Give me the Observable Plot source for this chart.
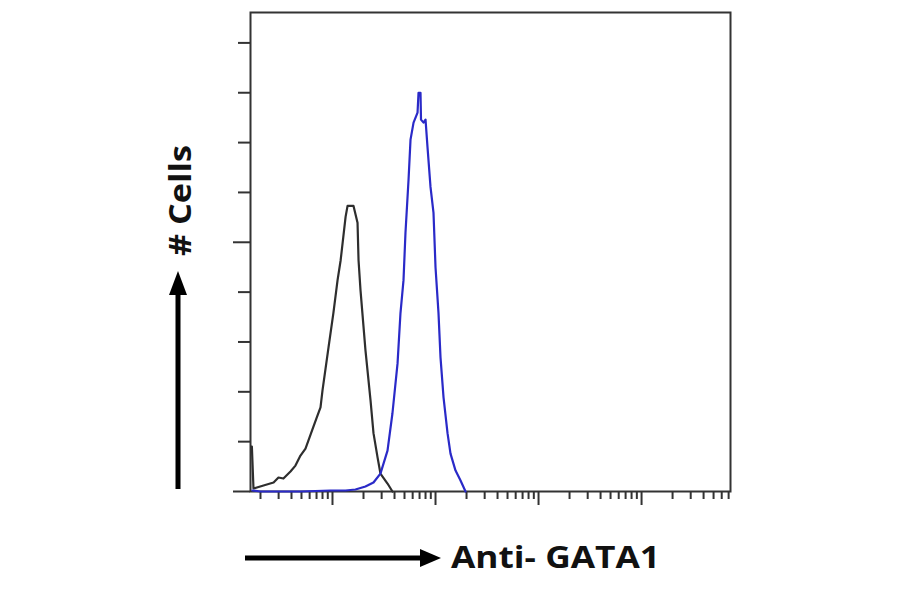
<!DOCTYPE html>
<html>
<head>
<meta charset="utf-8">
<script src="https://cdn.jsdelivr.net/npm/d3@7"></script>
<script src="https://cdn.jsdelivr.net/npm/@observablehq/plot@0.6"></script>
<style>
  html, body { margin: 0; padding: 0; background: #fff; }
  #chart { width: 900px; height: 594px; }
</style>
</head>
<body>
<div id="chart"></div>
<script>
// Isotype control (black) histogram: fluorescence intensity vs cell count
const controlIntensity = [1.62, 1.65, 1.71, 2.14, 2.68, 2.99, 3.34, 3.91, 4.37, 4.89, 5.47, 6.35, 7.0, 7.65, 8.0, 9.15, 10.2, 11.2, 12.0, 13.4, 14.0, 16.0, 17.5, 17.9, 18.7, 20.9, 23.4, 25.0, 27.4, 29.2, 34.2, 38.2];
const controlCount     = [9.0, 9.0, 0.6, 1.2, 1.8, 2.8, 2.6, 4.0, 5.2, 7.2, 8.6, 12.3, 14.7, 16.9, 20.3, 28.9, 35.8, 42.4, 46.4, 55.1, 57.3, 57.3, 53.9, 46.4, 40.4, 28.3, 18.3, 11.7, 6.8, 3.6, 1.6, 0];

// Anti-GATA1 stained (blue) histogram
const gataIntensity = [1.67, 2.0, 4.89, 9.56, 13.4, 16.7, 20.9, 25.0, 29.2, 34.2, 38.2, 42.8, 45.7, 48.9, 51.1, 54.7, 57.2, 61.2, 66.9, 68.4, 71.5, 72.3, 76.5, 80.0, 83.6, 89.4, 95.6, 100, 106.9, 111.8, 119.6, 130.8, 139.8, 156.4, 174.9, 195.6];
const gataCount     = [0.2, 0, 0, 0.2, 0.2, 0.4, 1.0, 1.8, 3.6, 8.2, 15.7, 25.7, 35.8, 42.4, 51.9, 62.5, 70.6, 74.0, 76.0, 80.0, 80.0, 74.6, 74.0, 74.6, 69.1, 61.1, 55.9, 45.0, 35.8, 26.9, 18.9, 11.7, 7.6, 4.2, 2.2, 0];

// Axis ticks (no labels in the original)
const xMajorTicks = [10, 100, 1000, 10000];
const xMinorMultipliers = [2, 3, 4, 5, 6, 7, 8, 9];
const xDecades = [1, 10, 100, 1000, 10000];
const yMinorTicks = [10, 20, 30, 40, 60, 70, 80, 90];
const yMajorTicks = [0, 50];

const xLabel = "Anti- GATA1";
const yLabel = "# Cells";

const xDomain = [1.6, 73000];
const xMinorTicks = xDecades.flatMap(d => xMinorMultipliers.map(m => m * d)).filter(v => v > xDomain[0] && v < xDomain[1]);

const control = controlIntensity.map((x, i) => ({x, y: controlCount[i]}));
const gata = gataIntensity.map((x, i) => ({x, y: gataCount[i]}));

const axisColor = "#333";
const blank = () => "";

const plot = Plot.plot({
  width: 900,
  height: 594,
  marginLeft: 250,
  marginRight: 170,
  marginTop: 12,
  marginBottom: 103,
  style: {background: "#fff", overflow: "visible"},
  x: {type: "log", domain: xDomain, axis: null},
  y: {domain: [0, 96.1], axis: null},
  marks: [
    Plot.axisX({ticks: xMinorTicks, tickSize: 8, tickFormat: blank, label: null, stroke: axisColor, strokeWidth: 2}),
    Plot.axisX({ticks: xMajorTicks, tickSize: 14, tickFormat: blank, label: null, stroke: axisColor, strokeWidth: 2}),
    Plot.axisY({ticks: yMinorTicks, tickSize: 12, tickFormat: blank, label: null, stroke: axisColor, strokeWidth: 2}),
    Plot.axisY({ticks: yMajorTicks, tickSize: 17, tickFormat: blank, label: null, stroke: axisColor, strokeWidth: 2}),
    Plot.frame({stroke: axisColor, strokeWidth: 2}),
    Plot.line(control, {x: "x", y: "y", stroke: "#2e2e2e", strokeWidth: 2.2}),
    Plot.line(gata, {x: "x", y: "y", stroke: "#2a2ac8", strokeWidth: 2.2})
  ]
});

document.getElementById("chart").appendChild(plot);

// Axis annotations: arrows and bold labels outside the frame
const svg = d3.select(plot);
const ann = svg.append("g").attr("class", "annotations");

// horizontal arrow
ann.append("line").attr("x1", 245).attr("y1", 558).attr("x2", 422).attr("y2", 558)
  .attr("stroke", "#000").attr("stroke-width", 5);
ann.append("path").attr("d", "M420,549 L441,558 L420,567 Z").attr("fill", "#000");

// vertical arrow
ann.append("line").attr("x1", 178).attr("y1", 489).attr("x2", 178).attr("y2", 292)
  .attr("stroke", "#000").attr("stroke-width", 5);
ann.append("path").attr("d", "M169,295 L178,271 L187,295 Z").attr("fill", "#000");

ann.append("text")
  .attr("x", 451).attr("y", 568)
  .attr("text-anchor", "start")
  .attr("font-family", "'Open Sans', 'Liberation Sans', sans-serif")
  .attr("font-weight", "bold")
  .attr("font-size", 31)
  .attr("fill", "#111")
  .attr("textLength", 209)
  .attr("lengthAdjust", "spacingAndGlyphs")
  .text(xLabel);

ann.append("text")
  .attr("transform", "translate(191,256) rotate(-90)")
  .attr("text-anchor", "start")
  .attr("font-family", "'Open Sans', 'Liberation Sans', sans-serif")
  .attr("font-weight", "bold")
  .attr("font-size", 30)
  .attr("fill", "#111")
  .attr("textLength", 111)
  .attr("lengthAdjust", "spacingAndGlyphs")
  .text(yLabel);
</script>
</body>
</html>
